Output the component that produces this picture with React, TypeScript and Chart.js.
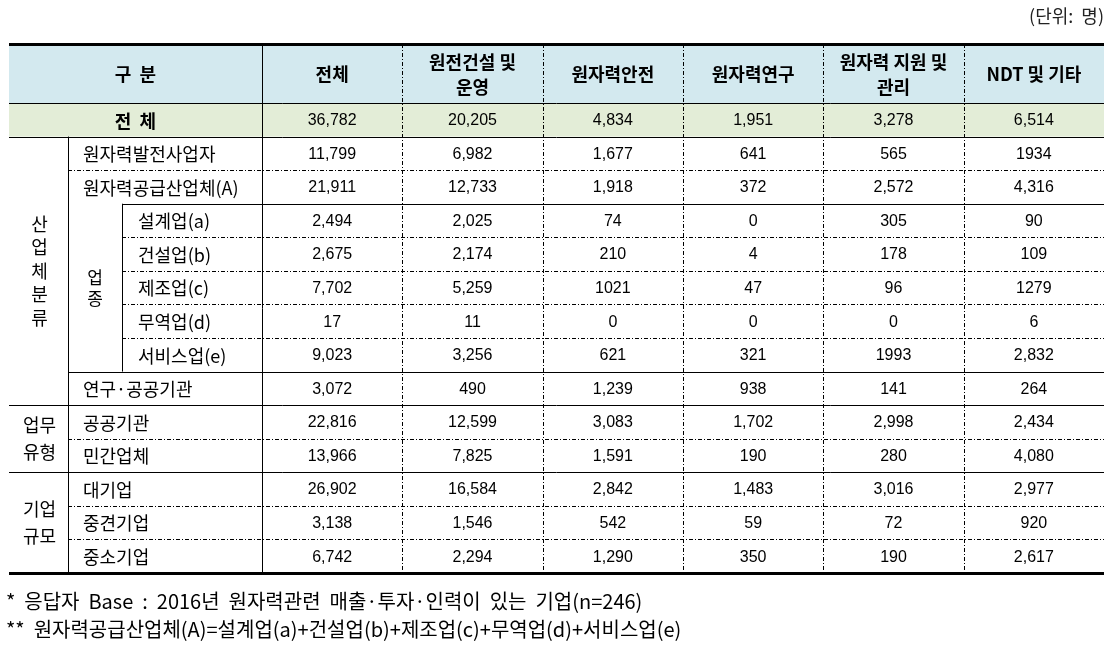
import React, { useEffect, useRef } from "react";
import { Chart, registerables } from "chart.js";

Chart.register(...registerables);

// ---------- data ----------
const columnHeaders: string[][] = [
  ["전체"],
  ["원전건설 및", "운영"],
  ["원자력안전"],
  ["원자력연구"],
  ["원자력 지원 및", "관리"],
  ["NDT 및 기타"],
];

const rowLabels: string[] = [
  "전 체",
  "원자력발전사업자",
  "원자력공급산업체(A)",
  "설계업(a)",
  "건설업(b)",
  "제조업(c)",
  "무역업(d)",
  "서비스업(e)",
  "연구·공공기관",
  "공공기관",
  "민간업체",
  "대기업",
  "중견기업",
  "중소기업",
];

// series values (as printed in the table)
const totalValues: string[] = ["36,782", "11,799", "21,911", "2,494", "2,675", "7,702", "17", "9,023", "3,072", "22,816", "13,966", "26,902", "3,138", "6,742"];
const constructionValues: string[] = ["20,205", "6,982", "12,733", "2,025", "2,174", "5,259", "11", "3,256", "490", "12,599", "7,825", "16,584", "1,546", "2,294"];
const safetyValues: string[] = ["4,834", "1,677", "1,918", "74", "210", "1021", "0", "621", "1,239", "3,083", "1,591", "2,842", "542", "1,290"];
const researchValues: string[] = ["1,951", "641", "372", "0", "4", "47", "0", "321", "938", "1,702", "190", "1,483", "59", "350"];
const supportValues: string[] = ["3,278", "565", "2,572", "305", "178", "96", "0", "1993", "141", "2,998", "280", "3,016", "72", "190"];
const ndtValues: string[] = ["6,514", "1934", "4,316", "90", "109", "1279", "6", "2,832", "264", "2,434", "4,080", "2,977", "920", "2,617"];

const seriesValues: string[][] = [totalValues, constructionValues, safetyValues, researchValues, supportValues, ndtValues];

const groupLabels: { chars: string[]; from: number; to: number; vertical: boolean }[] = [
  { chars: ["산", "업", "체", "분", "류"], from: 1, to: 8, vertical: true },
  { chars: ["업무", "유형"], from: 9, to: 10, vertical: false },
  { chars: ["기업", "규모"], from: 11, to: 13, vertical: false },
];
const subGroupLabel = { chars: ["업", "종"], from: 3, to: 7 };

const unitText = "(단위:  명)";
const footnotes: string[] = [
  "*  응답자  Base  :  2016년  원자력관련  매출·투자·인력이  있는  기업(n=246)",
  "**  원자력공급산업체(A)=설계업(a)+건설업(b)+제조업(c)+무역업(d)+서비스업(e)",
];

// ---------- style ----------
const KR = '"Noto Sans CJK KR", "Noto Sans", sans-serif';
const NUM = '"Liberation Sans", Arial, sans-serif';
const HEADER_BG = "#D3E9EF";
const TOTAL_BG = "#E3EDD7";
const TABLE_LEFT = 9;
const TABLE_TOP = 44;
const COL_GROUP_RIGHT = 68;
const COL_SUB_RIGHT = 122;
const DASH = [4, 2, 1, 2];

const tablePlugin = {
  id: "tablePlugin",
  beforeDraw(chart: any) {
    const { ctx, chartArea, scales } = chart;
    const xs = scales.x;
    const ys = scales.y;
    const right = chartArea.right;
    const bottom = chartArea.bottom;
    const rowTop = (i: number) => ys.getPixelForValue(i - 0.5);
    const rowMid = (i: number) => ys.getPixelForValue(i);
    const colLeft = (j: number) => xs.getPixelForValue(j - 0.5);

    ctx.save();
    ctx.fillStyle = "#fff";
    ctx.fillRect(0, 0, chart.width, chart.height);

    // backgrounds
    ctx.fillStyle = HEADER_BG;
    ctx.fillRect(TABLE_LEFT, TABLE_TOP, right - TABLE_LEFT, rowTop(0) - TABLE_TOP);
    ctx.fillStyle = TOTAL_BG;
    ctx.fillRect(TABLE_LEFT, rowTop(0), right - TABLE_LEFT, rowTop(1) - rowTop(0));

    const hline = (x1: number, x2: number, y: number, dashed: boolean, w = 1) => {
      ctx.beginPath();
      ctx.setLineDash(dashed ? DASH : []);
      ctx.lineWidth = w;
      ctx.strokeStyle = "#000";
      const yy = Math.round(y) + (w % 2 ? 0.5 : 0);
      ctx.moveTo(x1, yy);
      ctx.lineTo(x2, yy);
      ctx.stroke();
    };
    const vline = (x: number, y1: number, y2: number, dashed: boolean, w = 1) => {
      ctx.beginPath();
      ctx.setLineDash(dashed ? DASH : []);
      ctx.lineWidth = w;
      ctx.strokeStyle = "#000";
      const xx = Math.round(x) + 0.5;
      ctx.moveTo(xx, y1);
      ctx.lineTo(xx, y2);
      ctx.stroke();
    };

    // horizontal lines
    hline(TABLE_LEFT, right, rowTop(0), false);
    hline(TABLE_LEFT, right, rowTop(1), false);
    hline(COL_GROUP_RIGHT, right, rowTop(2), true);
    hline(COL_SUB_RIGHT, right, rowTop(3), false);
    for (let i = 4; i <= 7; i++) hline(COL_SUB_RIGHT, right, rowTop(i), true);
    hline(COL_GROUP_RIGHT, right, rowTop(8), false);
    hline(TABLE_LEFT, right, rowTop(9), false);
    hline(COL_GROUP_RIGHT, right, rowTop(10), true);
    hline(TABLE_LEFT, right, rowTop(11), false);
    hline(COL_GROUP_RIGHT, right, rowTop(12), true);
    hline(COL_GROUP_RIGHT, right, rowTop(13), true);

    // vertical lines
    vline(COL_GROUP_RIGHT, rowTop(1), bottom, false);
    vline(COL_SUB_RIGHT, rowTop(3), rowTop(8), false);
    vline(colLeft(0), TABLE_TOP, bottom, false);
    for (let j = 1; j < columnHeaders.length; j++) vline(colLeft(j), TABLE_TOP, bottom, true);

    // thick top / bottom
    ctx.setLineDash([]);
    ctx.fillStyle = "#000";
    ctx.fillRect(TABLE_LEFT, TABLE_TOP - 1, right - TABLE_LEFT, 3);
    ctx.fillRect(TABLE_LEFT, Math.round(bottom) - 1, right - TABLE_LEFT, 3);

    // header text
    ctx.fillStyle = "#000";
    ctx.textBaseline = "middle";
    ctx.textAlign = "center";
    ctx.font = `bold 18px ${KR}`;
    const headMid = (TABLE_TOP + rowTop(0)) / 2 + 1;
    ctx.fillText("구  분", (TABLE_LEFT + colLeft(0)) / 2, headMid);
    columnHeaders.forEach((lines, j) => {
      const cx = xs.getPixelForValue(j);
      const lh = 25;
      lines.forEach((t, k) => {
        ctx.fillText(t, cx, headMid + (k - (lines.length - 1) / 2) * lh);
      });
    });

    // total row label
    ctx.font = `bold 18px ${KR}`;
    ctx.fillText("전  체", (TABLE_LEFT + colLeft(0)) / 2, rowMid(0) + 1);

    // row labels
    ctx.textAlign = "left";
    ctx.font = `18px ${KR}`;
    for (let i = 1; i < rowLabels.length; i++) {
      const x = i >= subGroupLabel.from && i <= subGroupLabel.to ? COL_SUB_RIGHT + 16 : COL_GROUP_RIGHT + 15;
      ctx.fillText(rowLabels[i], x, rowMid(i) + 1);
    }

    // group labels
    ctx.textAlign = "center";
    groupLabels.forEach((g) => {
      const cy = (rowTop(g.from) + ys.getPixelForValue(g.to + 0.5)) / 2;
      const lh = g.vertical ? 23.5 : 27;
      g.chars.forEach((c, k) => {
        ctx.fillText(c, (TABLE_LEFT + COL_GROUP_RIGHT) / 2 + 1, cy + (k - (g.chars.length - 1) / 2) * lh);
      });
    });
    {
      const g = subGroupLabel;
      const cy = (rowTop(g.from) + ys.getPixelForValue(g.to + 0.5)) / 2;
      ctx.font = `17px ${KR}`;
      g.chars.forEach((c, k) => {
        ctx.fillText(c, (COL_GROUP_RIGHT + COL_SUB_RIGHT) / 2, cy + (k - 0.5) * 21);
      });
    }

    // unit
    ctx.textAlign = "right";
    ctx.fillStyle = "#222";
    ctx.font = `18px ${KR}`;
    ctx.fillText(unitText, right, 16);

    // footnotes
    ctx.textAlign = "left";
    ctx.fillStyle = "#000";
    ctx.font = `20px ${KR}`;
    footnotes.forEach((t, k) => ctx.fillText(t, 6, 601 + k * 28));
    ctx.restore();
  },
  afterDatasetsDraw(chart: any) {
    const { ctx } = chart;
    ctx.save();
    ctx.fillStyle = "#000";
    ctx.textAlign = "center";
    ctx.textBaseline = "middle";
    ctx.font = `16px ${NUM}`;
    chart.data.datasets.forEach((ds: any, j: number) => {
      const meta = chart.getDatasetMeta(j);
      meta.data.forEach((pt: any, i: number) => {
        ctx.fillText(ds.labels[i], pt.x, pt.y + 1);
      });
    });
    ctx.restore();
  },
};

export default function App() {
  const ref = useRef<HTMLCanvasElement>(null);
  useEffect(() => {
    if (!ref.current) return;
    const datasets = seriesValues.map((vals, j) => ({
      label: columnHeaders[j].join(" "),
      labels: vals,
      data: vals.map((_, i) => ({ x: j, y: i })),
      pointRadius: 0,
      showLine: false,
    }));
    const chart = new Chart(ref.current, {
      type: "scatter",
      data: { datasets: datasets as any },
      options: {
        animation: false,
        responsive: false,
        layout: { padding: { left: 262, right: 16, top: 103, bottom: 651 - 573 } },
        plugins: { legend: { display: false }, tooltip: { enabled: false } },
        scales: {
          x: { type: "linear", min: -0.5, max: columnHeaders.length - 0.5, display: false },
          y: { type: "linear", min: -0.5, max: rowLabels.length - 0.5, reverse: true, display: false },
        },
      },
      plugins: [tablePlugin],
    });
    return () => chart.destroy();
  }, []);
  return (
    <div style={{ position: "absolute", left: 0, top: 0, width: 1120, height: 651 }}>
      <canvas ref={ref} width={1120} height={651} style={{ width: 1120, height: 651, display: "block" }} />
    </div>
  );
}
